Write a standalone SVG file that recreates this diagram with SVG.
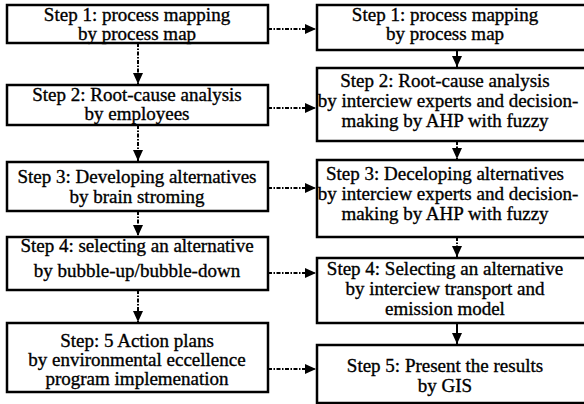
<svg xmlns="http://www.w3.org/2000/svg" width="584" height="404" viewBox="0 0 584 404">
<style>
.box{fill:#fff;stroke:#000;stroke-width:2.5}
.t{font-family:'Liberation Serif','Times New Roman','DejaVu Serif',serif;font-size:19px;fill:#000;stroke:#000;stroke-width:0.35;text-anchor:middle}
.dd{fill:none;stroke:#000;stroke-width:2;stroke-dasharray:4 1.5 1.5 1.5}
.sl{fill:none;stroke:#000;stroke-width:2}
</style>
<defs>
<marker id="ah" markerUnits="userSpaceOnUse" markerWidth="11" markerHeight="10" refX="11" refY="5" orient="auto">
<path d="M0,0 L11,5 L0,10 z" fill="#000"/>
</marker>
</defs>
<rect width="584" height="404" fill="#fff"/>
<g id="connectors">
<line class="dd" x1="268" y1="29" x2="316" y2="29" marker-end="url(#ah)"/>
<line class="dd" x1="268" y1="108" x2="316" y2="108" marker-end="url(#ah)"/>
<line class="dd" x1="268" y1="188" x2="316" y2="188" marker-end="url(#ah)"/>
<line class="dd" x1="268" y1="273" x2="316" y2="273" marker-end="url(#ah)"/>
<line class="dd" x1="268" y1="369" x2="316" y2="369" marker-end="url(#ah)"/>
<line class="dd" x1="138" y1="43" x2="138" y2="84" marker-end="url(#ah)"/>
<line class="dd" x1="138" y1="125" x2="138" y2="161" marker-end="url(#ah)"/>
<line class="dd" x1="138" y1="211" x2="138" y2="236" marker-end="url(#ah)"/>
<line class="dd" x1="138" y1="290" x2="138" y2="322" marker-end="url(#ah)"/>
<line class="sl" x1="457" y1="50" x2="457" y2="67" marker-end="url(#ah)"/>
<line class="dd" x1="457" y1="141" x2="457" y2="159" marker-end="url(#ah)"/>
<line class="dd" x1="457" y1="237" x2="457" y2="257" marker-end="url(#ah)"/>
<line class="sl" x1="457" y1="323" x2="457" y2="344" marker-end="url(#ah)"/>
</g>
<g id="L1"><rect class="box" x="7" y="5" width="261" height="38"/>
<text class="t" x="137" y="21">Step 1: process mapping</text>
<text class="t" x="137" y="40">by process map</text></g>
<g id="L2"><rect class="box" x="7" y="85" width="261" height="40"/>
<text class="t" x="137" y="101">Step 2: Root-cause analysis</text>
<text class="t" x="137" y="120">by employees</text></g>
<g id="L3"><rect class="box" x="7" y="162" width="261" height="49"/>
<text class="t" x="137" y="183">Step 3: Developing alternatives</text>
<text class="t" x="137" y="203">by brain stroming</text></g>
<g id="L4"><rect class="box" x="7" y="237" width="261" height="53"/>
<text class="t" x="137" y="252">Step 4: selecting an alternative</text>
<text class="t" x="137" y="277">by bubble-up/bubble-down</text></g>
<g id="L5"><rect class="box" x="7" y="323" width="261" height="69"/>
<text class="t" x="137" y="347">Step: 5 Action plans</text>
<text class="t" x="137" y="366">by environmental eccellence</text>
<text class="t" x="137" y="385">program implemenation</text></g>
<g id="R1"><rect class="box" x="317" y="5" width="273" height="45"/>
<text class="t" x="445" y="21">Step 1: process mapping</text>
<text class="t" x="445" y="40">by process map</text></g>
<g id="R2"><rect class="box" x="317" y="68" width="273" height="73"/>
<text class="t" x="445" y="87">Step 2: Root-cause analysis</text>
<text class="t" x="448" y="107">by interciew experts and decision-</text>
<text class="t" x="445" y="127">making by AHP with fuzzy</text></g>
<g id="R3"><rect class="box" x="317" y="160" width="273" height="77"/>
<text class="t" x="445" y="180">Step 3: Deceloping alternatives</text>
<text class="t" x="448" y="200">by interciew experts and decision-</text>
<text class="t" x="445" y="220">making by AHP with fuzzy</text></g>
<g id="R4"><rect class="box" x="317" y="258" width="273" height="65"/>
<text class="t" x="445" y="275">Step 4: Selecting an alternative</text>
<text class="t" x="445" y="295">by interciew transport and</text>
<text class="t" x="445" y="315">emission model</text></g>
<g id="R5"><rect class="box" x="317" y="345" width="273" height="58"/>
<text class="t" x="445" y="372">Step 5: Present the results</text>
<text class="t" x="445" y="392">by GIS</text></g>
</svg>
